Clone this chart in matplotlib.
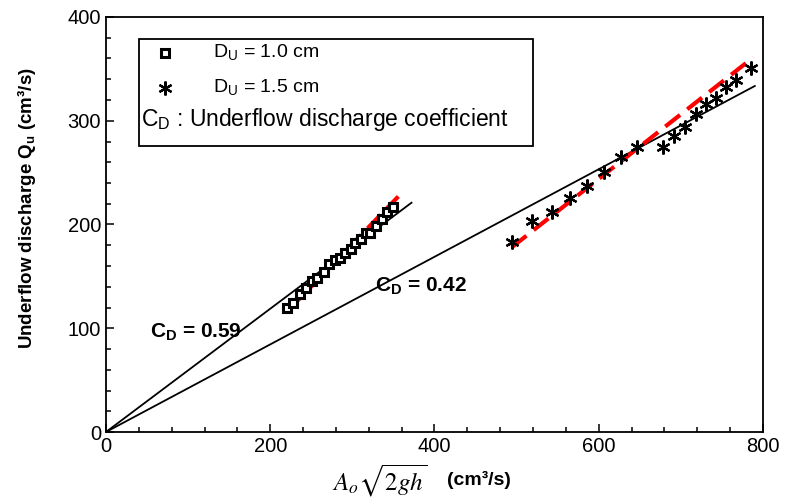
import matplotlib
matplotlib.use('Agg')
import matplotlib.pyplot as plt
from matplotlib.patches import Rectangle

plt.rcParams['font.family'] = ['Liberation Sans', 'DejaVu Sans']
plt.rcParams['mathtext.fontset'] = 'custom'
plt.rcParams['mathtext.rm'] = 'Liberation Sans'
plt.rcParams['mathtext.bf'] = 'Liberation Sans:bold'

# D_U = 1.0 cm measurements
x10 = [220.0, 228.1, 236.2, 243.5, 250.8, 257.3, 265.4, 271.9, 278.5, 284.9,
       291.4, 297.9, 303.5, 310.0, 316.6, 321.4, 328.7, 335.7, 342.4, 349.1]
q10 = [119.2, 124.6, 133.3, 138.5, 145.8, 148.1, 154.5, 161.9, 165.8, 167.4,
       172.8, 176.4, 181.9, 186.3, 191.5, 192.1, 198.6, 205.0, 212.3, 217.2]

# D_U = 1.5 cm measurements
x15 = [494.7, 519.1, 542.7, 565.0, 586.0, 606.7, 627.1, 646.1, 677.8, 691.6,
       705.0, 718.4, 730.5, 742.7, 754.9, 767.1, 785.3]
q15 = [183.4, 203.4, 211.8, 225.2, 237.4, 250.9, 265.4, 275.0, 275.0, 285.3,
       294.3, 306.2, 316.1, 321.6, 332.8, 339.3, 351.1]

# discharge coefficient lines (end points)
cd59_x = [0, 372]
cd59_q = [0, 221]
cd42_x = [0, 790]
cd42_q = [0, 333.5]

# red dashed trend lines (end points)
fit10_x = [224, 356]
fit10_q = [119, 227]
fit15_x = [494, 788]
fit15_q = [178, 361]

fig = plt.figure(figsize=(7.92, 5.0), dpi=100)
ax = fig.add_axes([0.1338, 0.136, 0.8296, 0.830])

ax.plot(cd59_x, cd59_q, color='black', linewidth=1.3)
ax.plot(cd42_x, cd42_q, color='black', linewidth=1.3)
ax.plot(fit10_x, fit10_q, color='red', linewidth=3, dashes=(4.5, 2.2))
ax.plot(fit15_x, fit15_q, color='red', linewidth=3, dashes=(4.5, 2.2))
ax.plot(x10, q10, linestyle='none', marker='s', markersize=5.5,
        markerfacecolor='white', markeredgecolor='black', markeredgewidth=2.2)
ax.plot(x15, q15, linestyle='none', marker=(6, 2, 0), markersize=10,
        color='black', markeredgewidth=1.6)

ax.set_xlim(0, 800)
ax.set_ylim(0, 400)
ax.set_xticks([0, 200, 400, 600, 800])
ax.set_yticks([0, 100, 200, 300, 400])
ax.set_xticks(range(0, 801, 40), minor=True)
ax.set_yticks(range(0, 401, 20), minor=True)
ax.tick_params(which='both', direction='in', top=False, right=False,
               labelsize=14.5, width=1.1)
ax.tick_params(which='major', length=6)
ax.tick_params(which='minor', length=3.6)
for s in ax.spines.values():
    s.set_linewidth(1.3)

fig.text(0.034, 0.584, 'Underflow discharge Q$_\\mathbf{u}$ (cm³/s)',
         fontsize=13.5, fontweight='bold', rotation=90, ha='center', va='center')

# x label: formula in serif + units in bold sans
fig.text(0.48, 0.018, r'$A_o\sqrt{2gh}$', fontsize=18, ha='center',
         va='baseline', math_fontfamily='stix')
fig.text(0.565, 0.030, '(cm³/s)', fontsize=14, fontweight='bold',
         ha='left', va='baseline')

# annotations
ax.text(0.067, 0.241, 'C$_\\mathbf{D}$ = 0.59', transform=ax.transAxes,
        fontsize=15, fontweight='bold', va='center')
ax.text(0.410, 0.352, 'C$_\\mathbf{D}$ = 0.42', transform=ax.transAxes,
        fontsize=15, fontweight='bold', va='center')

# legend box
ax.add_patch(Rectangle((0.050, 0.690), 0.600, 0.256, transform=ax.transAxes,
                       fill=False, edgecolor='black', linewidth=1.3))
ax.plot([0.090], [0.913], transform=ax.transAxes, linestyle='none',
        marker='s', markersize=5.5, markerfacecolor='white',
        markeredgecolor='black', markeredgewidth=2.2, clip_on=False)
ax.plot([0.090], [0.829], transform=ax.transAxes, linestyle='none',
        marker=(6, 2, 0), markersize=10, color='black', markeredgewidth=1.6,
        clip_on=False)
ax.text(0.163, 0.913, 'D$_\\mathregular{U}$ = 1.0 cm', transform=ax.transAxes,
        fontsize=14, va='center')
ax.text(0.163, 0.829, 'D$_\\mathregular{U}$ = 1.5 cm', transform=ax.transAxes,
        fontsize=14, va='center')
ax.text(0.054, 0.752, 'C$_\\mathregular{D}$ : Underflow discharge coefficient',
        transform=ax.transAxes, fontsize=16.5, va='center')

fig.savefig('out.png', dpi=100)
